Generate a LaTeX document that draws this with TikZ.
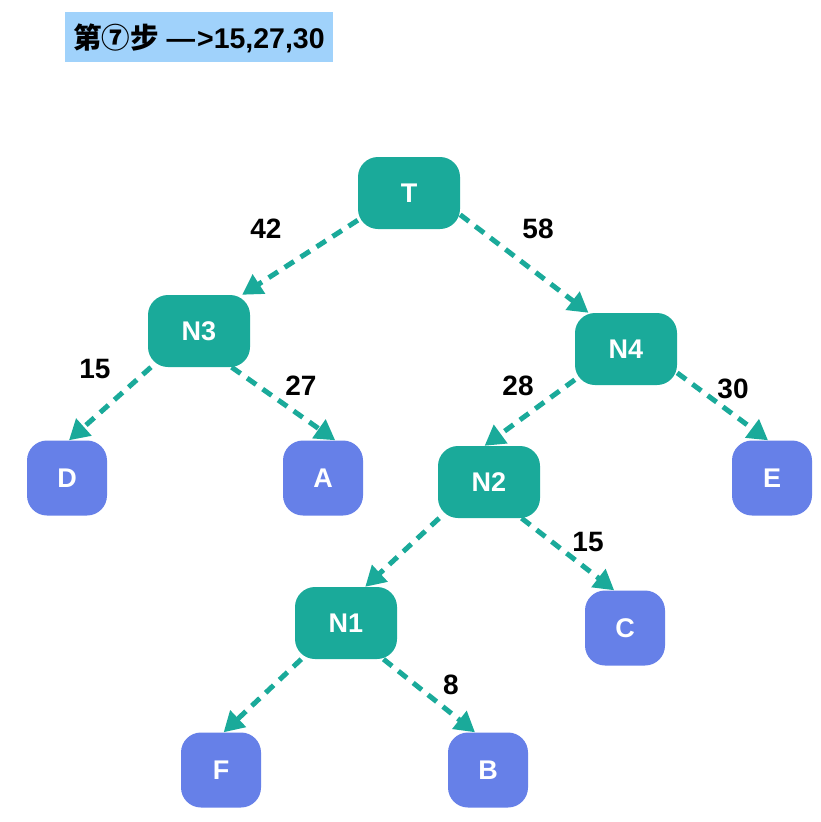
\documentclass[tikz,border=0pt]{standalone}
\usepackage{fontspec}
\setmainfont{Liberation Sans}
\newfontfamily\cjk{Noto Sans CJK SC}
\usetikzlibrary{arrows.meta}
\definecolor{tealc}{HTML}{1AAA9A}
\definecolor{bluec}{HTML}{6680E8}
\definecolor{titlec}{HTML}{A0D2FB}
\begin{document}
\begin{tikzpicture}[x=1pt,y=-1pt,
  inner/.style={fill=tealc,rounded corners=20pt,minimum width=102pt,minimum height=72pt,inner sep=0pt,text=white,font=\fontsize{27}{30}\selectfont\bfseries},
  leaf/.style={fill=bluec,rounded corners=20pt,minimum width=80pt,minimum height=75pt,inner sep=0pt,text=white,font=\fontsize{27}{30}\selectfont\bfseries},
  edge/.style={draw=tealc,line width=5pt,dash pattern=on 11pt off 8pt,-{Triangle[length=20pt,width=22pt]}},
  lbl/.style={font=\fontsize{28}{30}\selectfont\bfseries}]
\useasboundingbox (0,0) rectangle (820,822);
\fill[white] (0,0) rectangle (820,822);
% title
\node[fill=titlec,minimum width=268pt,minimum height=50pt,inner sep=0pt] (title) at (199,37) {};
\node[anchor=west,inner sep=0pt,font=\fontsize{28.5}{30}\selectfont\bfseries] (titletext) at (73,38) {{\cjk\bfseries 第⑦步}\ —\kern2pt>15,27,30};
% nodes
\node[inner] (T)  at (409,193) {T};
\node[inner] (N3) at (199,331) {N3};
\node[inner] (N4) at (626,349) {N4};
\node[inner] (N2) at (489,482) {N2};
\node[inner] (N1) at (346,623) {N1};
\node[leaf] (D) at (67,478) {D};
\node[leaf] (A) at (323,478) {A};
\node[leaf] (E) at (772,478) {E};
\node[leaf] (C) at (625,628) {C};
\node[leaf] (F) at (221,770) {F};
\node[leaf] (B) at (488,770) {B};
% edges
\draw[edge] (T.208) -- (N3.40);
\draw[edge] (T.337) -- (N4.136);
\draw[edge] (N3.217) -- (D.87);
\draw[edge] (N3.312) -- (A.72);
\draw[edge] (N4.211) -- (N2.97);
\draw[edge] (N4.335) -- (E.96);
\draw[edge] (N2.216) -- (N1.62);
\draw[edge] (N2.312) -- (C.106);
\draw[edge] (N1.219) -- (F.86);
\draw[edge] (N1.316) -- (B.109);
% labels
\node[lbl] (l1) at (266,229) {42};
\node[lbl] (l2) at (538,229) {58};
\node[lbl] (l3) at (95,369) {15};
\node[lbl] (l4) at (301,386) {27};
\node[lbl] (l5) at (518,386) {28};
\node[lbl] (l6) at (733,389) {30};
\node[lbl] (l7) at (588,542) {15};
\node[lbl] (l8) at (451,685) {8};
\end{tikzpicture}
\end{document}
